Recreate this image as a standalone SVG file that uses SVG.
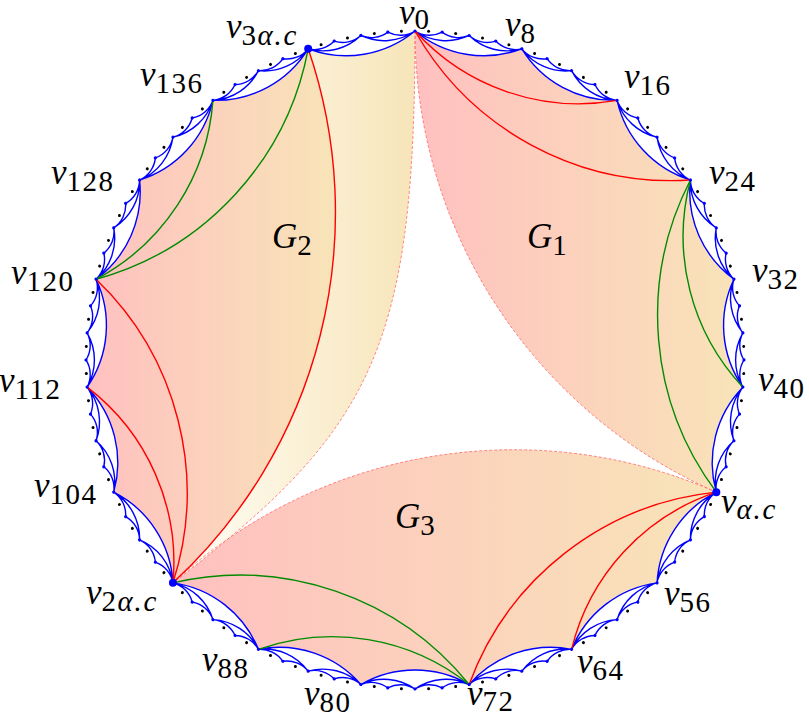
<svg xmlns="http://www.w3.org/2000/svg" width="809" height="717" viewBox="0 0 809 717">
<style>
.b{fill:none;stroke:#0000ff;stroke-width:1.4}
.r{fill:none;stroke:#ff0000;stroke-width:1.4}
.gn{fill:none;stroke:#008a00;stroke-width:1.4}
.d{fill:none;stroke:#ff6a6a;stroke-width:0.8;stroke-dasharray:3 2}
.dk{fill:#000}
.db{fill:#0000ff}
.t{font-family:"Liberation Serif","DejaVu Serif",serif;font-size:35px;font-style:italic;fill:#000}
.s{font-size:29px;font-style:normal;letter-spacing:1.5px}
.si{font-size:29px;font-style:italic;letter-spacing:1px}
</style>
<defs>
<linearGradient id="gpk" x1="0" y1="0" x2="1" y2="0">
<stop offset="0" stop-color="#ffc0c0"/>
<stop offset="1" stop-color="#f8e4b8"/>
</linearGradient>
<linearGradient id="gyl" x1="0" y1="0" x2="1" y2="0">
<stop offset="0" stop-color="#fffef8"/>
<stop offset="1" stop-color="#f7e5b9"/>
</linearGradient>
<path id="seg" d="M0,-329A108.304,108.304 0 0 0 106.826,-311.174M0,-329A54.338,54.338 0 0 0 54.152,-324.513A54.338,54.338 0 0 0 106.826,-311.174M0,-329A27.192,27.192 0 0 0 27.169,-327.876A27.192,27.192 0 0 0 54.152,-324.513A27.192,27.192 0 0 0 80.765,-318.933A27.192,27.192 0 0 0 106.826,-311.174"/>
<g id="dots">
<circle class="db" cx="0" cy="-329" r="1.6"/>
<circle class="dk" cx="13.596" cy="-328.719" r="1.5"/>
<circle class="db" cx="27.169" cy="-327.876" r="1.6"/>
<circle class="dk" cx="40.695" cy="-326.473" r="1.5"/>
<circle class="db" cx="54.152" cy="-324.513" r="1.6"/>
<circle class="dk" cx="67.516" cy="-321.979" r="1.5"/>
<circle class="db" cx="80.765" cy="-318.933" r="1.6"/>
<circle class="dk" cx="93.876" cy="-315.322" r="1.5"/>
</g>
<path id="g16" d="M-106.826,-311.174A220.346,220.346 0 0 0 106.826,-311.174"/>
<path id="g24" d="M-156.587,-289.347A295.492,295.492 0 0 0 156.587,-289.347"/>
<path id="g48" d="M-275.428,-179.946A503.572,503.572 0 0 0 275.428,-179.946"/>
</defs>

<g id="regions" transform="translate(415,360)">
<path id="G1-fill" fill="url(#gpk)" d="M0,-329A108.304,108.304 0 0 0 106.826,-311.174A108.304,108.304 0 0 0 202.076,-259.627A108.304,108.304 0 0 0 275.428,-179.946A108.304,108.304 0 0 0 318.933,-80.765A108.304,108.304 0 0 0 327.876,27.169A108.304,108.304 0 0 0 301.29,132.158A503.572,503.572 0 0 1 0,-329Z"/>
<path id="G3-fill" fill="url(#gpk)" d="M301.29,132.158A108.304,108.304 0 0 0 242.054,222.825A108.304,108.304 0 0 0 156.587,289.347A108.304,108.304 0 0 0 54.152,324.513A108.304,108.304 0 0 0 -54.152,324.513A108.304,108.304 0 0 0 -156.587,289.347A108.304,108.304 0 0 0 -242.054,222.825A503.572,503.572 0 0 1 301.29,132.158Z"/>
<path id="G2-fill" fill="url(#gpk)" d="M-242.054,222.825A108.304,108.304 0 0 0 -301.29,132.158A108.304,108.304 0 0 0 -327.876,27.169A108.304,108.304 0 0 0 -318.933,-80.765A108.304,108.304 0 0 0 -275.428,-179.946A108.304,108.304 0 0 0 -202.076,-259.627A108.304,108.304 0 0 0 -106.826,-311.174A503.572,503.572 0 0 1 -242.054,222.825Z"/>
<path id="G2-strip" fill="url(#gyl)" d="M-242.054,222.825A503.572,503.572 0 0 0 -106.826,-311.174A108.304,108.304 0 0 0 0,-329C0,-9 -43.55,70.8 -242.054,222.825Z"/>
</g>

<g id="connectors" transform="translate(415,360)">
<g class="b">
<use href="#seg"/>
<use href="#seg" transform="rotate(18.947368)"/>
<use href="#seg" transform="rotate(37.894737)"/>
<use href="#seg" transform="rotate(56.842105)"/>
<use href="#seg" transform="rotate(75.789474)"/>
<use href="#seg" transform="rotate(94.736842)"/>
<use href="#seg" transform="rotate(113.684211)"/>
<use href="#seg" transform="rotate(132.631579)"/>
<use href="#seg" transform="rotate(151.578947)"/>
<use href="#seg" transform="rotate(170.526316)"/>
<use href="#seg" transform="rotate(189.473684)"/>
<use href="#seg" transform="rotate(208.421053)"/>
<use href="#seg" transform="rotate(227.368421)"/>
<use href="#seg" transform="rotate(246.315789)"/>
<use href="#seg" transform="rotate(265.263158)"/>
<use href="#seg" transform="rotate(284.210526)"/>
<use href="#seg" transform="rotate(303.157895)"/>
<use href="#seg" transform="rotate(322.105263)"/>
<use href="#seg" transform="rotate(341.052632)"/>
</g>
<g class="d">
<use href="#g48" transform="rotate(56.842105)"/>
<use href="#g48" transform="rotate(170.526316)"/>
<path d="M0,-329C0,-9 -43.55,70.8 -242.054,222.825"/>
</g>
<g class="r">
<use href="#g16" transform="rotate(18.947368)"/>
<use href="#g24" transform="rotate(28.421053)"/>
<use href="#g16" transform="rotate(132.631579)"/>
<use href="#g24" transform="rotate(142.105263)"/>
<use href="#g16" transform="rotate(246.315789)"/>
<use href="#g24" transform="rotate(255.789474)"/>
<use href="#g48" transform="rotate(284.210526)"/>
</g>
<g class="gn">
<use href="#g16" transform="rotate(75.789474)"/>
<use href="#g24" transform="rotate(85.263158)"/>
<use href="#g16" transform="rotate(189.473684)"/>
<use href="#g24" transform="rotate(198.947368)"/>
<use href="#g16" transform="rotate(303.157895)"/>
<use href="#g24" transform="rotate(312.631579)"/>
</g>
</g>

<g id="points" transform="translate(415,360)">
<use href="#dots"/>
<use href="#dots" transform="rotate(18.947368)"/>
<use href="#dots" transform="rotate(37.894737)"/>
<use href="#dots" transform="rotate(56.842105)"/>
<use href="#dots" transform="rotate(75.789474)"/>
<use href="#dots" transform="rotate(94.736842)"/>
<use href="#dots" transform="rotate(113.684211)"/>
<use href="#dots" transform="rotate(132.631579)"/>
<use href="#dots" transform="rotate(151.578947)"/>
<use href="#dots" transform="rotate(170.526316)"/>
<use href="#dots" transform="rotate(189.473684)"/>
<use href="#dots" transform="rotate(208.421053)"/>
<use href="#dots" transform="rotate(227.368421)"/>
<use href="#dots" transform="rotate(246.315789)"/>
<use href="#dots" transform="rotate(265.263158)"/>
<use href="#dots" transform="rotate(284.210526)"/>
<use href="#dots" transform="rotate(303.157895)"/>
<use href="#dots" transform="rotate(322.105263)"/>
<use href="#dots" transform="rotate(341.052632)"/>
<circle class="db" cx="301.29" cy="132.158" r="4"/>
<circle class="db" cx="-242.054" cy="222.825" r="4"/>
<circle class="db" cx="-106.826" cy="-311.174" r="4"/>
</g>

<g id="v0"><text class="t" x="399" y="24">v<tspan class="s" dy="5">0</tspan></text></g>
<g id="v8"><text class="t" x="505" y="36">v<tspan class="s" dy="7">8</tspan></text></g>
<g id="v16"><text class="t" x="624" y="88">v<tspan class="s" dy="7">16</tspan></text></g>
<g id="v24"><text class="t" x="709" y="184">v<tspan class="s" dy="7">24</tspan></text></g>
<g id="v32"><text class="t" x="752" y="282">v<tspan class="s" dy="7">32</tspan></text></g>
<g id="v40"><text class="t" x="758" y="391">v<tspan class="s" dy="7">40</tspan></text></g>
<g id="v48"><text class="t" x="721" y="513">v<tspan class="si" dy="6">α</tspan><tspan class="s">.</tspan><tspan class="si" dx="1">c</tspan></text></g>
<g id="v56"><text class="t" x="664" y="605">v<tspan class="s" dy="7">56</tspan></text></g>
<g id="v64"><text class="t" x="577" y="673">v<tspan class="s" dy="7">64</tspan></text></g>
<g id="v72"><text class="t" x="467" y="705">v<tspan class="s" dy="6">72</tspan></text></g>
<g id="v80"><text class="t" x="304" y="705">v<tspan class="s" dy="7">80</tspan></text></g>
<g id="v88"><text class="t" x="202" y="671">v<tspan class="s" dy="7">88</tspan></text></g>
<g id="v96"><text class="t" x="86" y="604">v<tspan class="s" dy="7">2</tspan><tspan class="si">α</tspan><tspan class="s">.</tspan><tspan class="si" dx="1">c</tspan></text></g>
<g id="v104"><text class="t" x="34" y="497">v<tspan class="s" dy="7">104</tspan></text></g>
<g id="v112"><text class="t" x="-1" y="392">v<tspan class="s" dy="7">112</tspan></text></g>
<g id="v120"><text class="t" x="11" y="284">v<tspan class="s" dy="7">120</tspan></text></g>
<g id="v128"><text class="t" x="51" y="184">v<tspan class="s" dy="7">128</tspan></text></g>
<g id="v136"><text class="t" x="140" y="86">v<tspan class="s" dy="7">136</tspan></text></g>
<g id="v144"><text class="t" x="226" y="38">v<tspan class="s" dy="7">3</tspan><tspan class="si">α</tspan><tspan class="s">.</tspan><tspan class="si" dx="1">c</tspan></text></g>

<g id="G1"><text class="t" x="527" y="248">G<tspan class="s" dy="7">1</tspan></text></g>
<g id="G2"><text class="t" x="272" y="248">G<tspan class="s" dy="7">2</tspan></text></g>
<g id="G3"><text class="t" x="395" y="528">G<tspan class="s" dy="7">3</tspan></text></g>
</svg>
